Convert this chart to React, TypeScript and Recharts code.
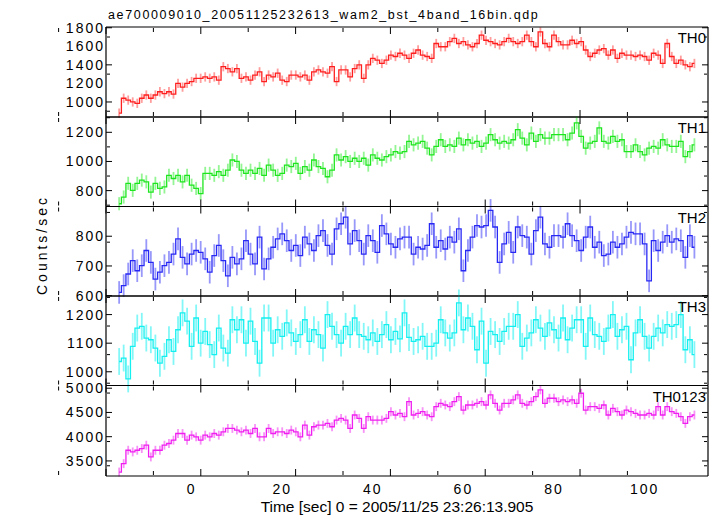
import { ComposedChart, Line, ErrorBar, XAxis, YAxis } from 'recharts'

const W = 717
const H = 516
const PLOT_LEFT = 106
const PLOT_RIGHT = 708
const PANEL_EDGES = [27, 117, 206.5, 296, 385.5, 476]
const Y_AXIS_W = 60
const X_AXIS_H = 30
const FONT = '"Liberation Sans", Arial, Helvetica, sans-serif'

const TITLE = 'ae700009010_20051125232613_wam2_bst_4band_16bin.qdp'
const X_LABEL = 'Time [sec] 0 = 2005/11/25 23:26:13.905'
const Y_LABEL = 'Counts/sec'

const X_DOMAIN = [-18.9, 114]
const X_MAJOR = [0, 20, 40, 60, 80, 100]
const X_MINOR = [-10, 10, 30, 50, 70, 90, 110]

// bin centres, seconds
const TIME = [
  -16, -15, -14, -13, -12, -11, -10, -9, -8, -7, -6, -5, -4, -3, -2, -1,
  0, 1, 2, 3, 4, 5, 6, 7, 8, 9, 10, 11, 12, 13, 14, 15,
  16, 17, 18, 19, 20, 21, 22, 23, 24, 25, 26, 27, 28, 29, 30, 31,
  32, 33, 34, 35, 36, 37, 38, 39, 40, 41, 42, 43, 44, 45, 46, 47,
  48, 49, 50, 51, 52, 53, 54, 55, 56, 57, 58, 59, 60, 61, 62, 63,
  64, 65, 66, 67, 68, 69, 70, 71, 72, 73, 74, 75, 76, 77, 78, 79,
  80, 81, 82, 83, 84, 85, 86, 87, 88, 89, 90, 91, 92, 93, 94, 95,
  96, 97, 98, 99, 100, 101, 102, 103, 104, 105, 106, 107, 108, 109, 110, 111,
]

const TH0 = [
  880, 1040, 1020, 1000, 985, 1040, 1075, 1040, 1075, 1110, 1090, 1110, 1085, 1200, 1160, 1200,
  1220, 1255, 1255, 1270, 1255, 1270, 1235, 1380, 1360, 1325, 1360, 1255, 1270, 1235, 1290, 1325,
  1220, 1290, 1270, 1310, 1235, 1220, 1290, 1290, 1270, 1290, 1235, 1325, 1345, 1325, 1310, 1380,
  1220, 1345, 1345, 1270, 1360, 1400, 1255, 1400, 1470, 1450, 1415, 1450, 1505, 1490, 1525, 1505,
  1470, 1525, 1560, 1505, 1490, 1470, 1630, 1595, 1595, 1650, 1685, 1630, 1650, 1615, 1595, 1630,
  1720, 1665, 1650, 1630, 1615, 1650, 1685, 1650, 1630, 1650, 1720, 1650, 1595, 1755, 1630, 1595,
  1720, 1650, 1615, 1615, 1665, 1630, 1650, 1560, 1490, 1525, 1560, 1575, 1505, 1560, 1470, 1525,
  1505, 1505, 1490, 1505, 1490, 1450, 1525, 1505, 1415, 1630, 1490, 1415, 1450, 1400, 1380, 1415,
]

const TH1 = [
  710, 756, 850, 802, 850, 872, 860, 790, 850, 815, 825, 905, 883, 905, 860, 905,
  837, 815, 780, 918, 918, 905, 930, 905, 940, 1010, 1000, 940, 918, 940, 918, 952,
  905, 975, 940, 905, 918, 975, 965, 987, 918, 965, 940, 1010, 965, 952, 895, 940,
  1045, 1010, 1033, 1000, 1022, 1000, 1022, 975, 1045, 1022, 1010, 1033, 1045, 1068, 1057, 1068,
  1138, 1114, 1126, 1138, 1091, 1045, 1103, 1149, 1103, 1114, 1103, 1160, 1114, 1149, 1126, 1138,
  1103, 1126, 1184, 1149, 1126, 1138, 1126, 1149, 1218, 1160, 1114, 1195, 1138, 1184, 1160, 1160,
  1184, 1184, 1184, 1149, 1195, 1265, 1172, 1091, 1126, 1138, 1230, 1138, 1126, 1172, 1138, 1149,
  1068, 1068, 1114, 1068, 1045, 1091, 1103, 1091, 1149, 1114, 1103, 1103, 1138, 1033, 1068, 1114,
]

const TH2 = [
  611, 634, 673, 718, 684, 701, 752, 712, 656, 679, 701, 712, 740, 791, 729, 707,
  740, 752, 746, 724, 679, 735, 769, 718, 667, 729, 707, 724, 785, 740, 707, 797,
  690, 724, 763, 791, 808, 785, 752, 769, 735, 797, 774, 752, 802, 819, 769, 740,
  825, 842, 864, 774, 819, 785, 740, 802, 785, 746, 836, 808, 774, 763, 791, 797,
  797, 740, 763, 757, 769, 842, 763, 785, 757, 797, 780, 825, 684, 752, 797, 836,
  831, 836, 887, 831, 712, 774, 813, 746, 831, 802, 797, 740, 819, 864, 774, 763,
  802, 802, 797, 842, 802, 785, 752, 797, 831, 763, 780, 735, 740, 780, 763, 774,
  797, 813, 808, 808, 774, 650, 785, 752, 780, 802, 780, 791, 785, 729, 802, 763,
]

const TH3 = [
  1036, 1048, 975, 1089, 1153, 1159, 1118, 1112, 1083, 1030, 1054, 1112, 1071, 1147, 1206, 1177,
  1089, 1188, 1100, 1141, 1095, 1060, 1153, 1083, 1065, 1182, 1147, 1182, 1100, 1177, 1106, 1030,
  1188, 1188, 1100, 1147, 1124, 1171, 1136, 1106, 1130, 1182, 1106, 1147, 1130, 1083, 1200, 1159,
  1130, 1100, 1159, 1130, 1188, 1130, 1124, 1112, 1136, 1106, 1130, 1165, 1112, 1141, 1115, 1206,
  1120, 1106, 1112, 1124, 1089, 1089, 1100, 1182, 1136, 1118, 1136, 1241, 1147, 1188, 1159, 1077,
  1177, 1030, 1141, 1130, 1106, 1141, 1159, 1159, 1200, 1089, 1118, 1136, 1182, 1153, 1124, 1171,
  1147, 1118, 1188, 1112, 1153, 1182, 1182, 1089, 1188, 1130, 1124, 1106, 1153, 1200, 1124, 1147,
  1159, 1042, 1136, 1182, 1124, 1083, 1124, 1153, 1136, 1165, 1159, 1165, 1200, 1077, 1112, 1060,
]

const TH0123 = [
  3271, 3444, 3720, 3686, 3720, 3755, 3824, 3582, 3720, 3720, 3824, 3859, 3928, 4066, 4066, 3928,
  4032, 3997, 3928, 4032, 3997, 4066, 4032, 4101, 4170, 4170, 4136, 4101, 4136, 4066, 4170, 3997,
  3997, 4170, 4066, 4101, 4101, 4066, 4136, 4101, 3997, 4239, 4032, 4205, 4239, 4239, 4274, 4205,
  4343, 4378, 4343, 4170, 4447, 4378, 4170, 4412, 4343, 4343, 4343, 4378, 4516, 4447, 4481, 4412,
  4723, 4447, 4480, 4516, 4447, 4412, 4620, 4689, 4654, 4620, 4723, 4827, 4550, 4654, 4654, 4689,
  4723, 4654, 4862, 4689, 4550, 4689, 4689, 4758, 4862, 4689, 4654, 4723, 4827, 4965, 4689, 4793,
  4793, 4723, 4758, 4723, 4758, 4689, 4896, 4550, 4620, 4620, 4585, 4654, 4447, 4585, 4516, 4447,
  4550, 4516, 4481, 4447, 4447, 4481, 4447, 4620, 4447, 4620, 4516, 4481, 4412, 4274, 4412, 4447,
]

// 1-sigma error per band (counts/sec)
const ERRORS = [50, 45, 38, 47, 92]

const TH0_TICKS = [1000, 1200, 1400, 1600, 1800]
const TH0_MINOR = [900, 1100, 1300, 1500, 1700]
const TH1_TICKS = [800, 1000, 1200]
const TH1_MINOR = [700, 900, 1100, 1300]
const TH2_TICKS = [600, 700, 800]
const TH2_MINOR = [620, 640, 660, 680, 720, 740, 760, 780, 820, 840, 860, 880]
const TH3_TICKS = [1000, 1100, 1200]
const TH3_MINOR = [960, 980, 1020, 1040, 1060, 1080, 1120, 1140, 1160, 1180, 1220, 1240, 1260]
const SUM_TICKS = [3500, 4000, 4500, 5000]
const SUM_MINOR = [3200, 3300, 3400, 3600, 3700, 3800, 3900, 4100, 4200, 4300, 4400, 4600, 4700, 4800, 4900]

const PANELS = [
  { name: 'TH0', values: TH0, err: ERRORS[0], color: '#ff1e1e', bar: 'rgba(255,60,60,0.5)', domain: [838, 1808], ticks: TH0_TICKS, minor: TH0_MINOR },
  { name: 'TH1', values: TH1, err: ERRORS[1], color: '#1ee61e', bar: 'rgba(40,235,40,0.5)', domain: [691, 1305], ticks: TH1_TICKS, minor: TH1_MINOR },
  { name: 'TH2', values: TH2, err: ERRORS[2], color: '#2828f5', bar: 'rgba(50,50,245,0.5)', domain: [599, 900], ticks: TH2_TICKS, minor: TH2_MINOR },
  { name: 'TH3', values: TH3, err: ERRORS[3], color: '#14f0f0', bar: 'rgba(30,240,240,0.55)', domain: [952, 1265], ticks: TH3_TICKS, minor: TH3_MINOR },
  { name: 'TH0123', values: TH0123, err: ERRORS[4], color: '#f01ef0', bar: 'rgba(240,40,240,0.5)', domain: [3189, 5056], ticks: SUM_TICKS, minor: SUM_MINOR },
]

type PanelDef = (typeof PANELS)[number]

// tick={false} also drops the tick marks, so draw an empty label instead
const EmptyTick = () => <g />

// axes that only draw the frame and inward tick marks
const tickOnly = { tick: EmptyTick, allowDataOverflow: true, type: 'number' as const, tickLine: { stroke: '#000' }, mirror: true }

function Panel({ p, index }: { p: PanelDef; index: number }) {
  const top = PANEL_EDGES[index]
  const bottom = PANEL_EDGES[index + 1]
  const last = index === PANELS.length - 1
  const data = TIME.map((t, i) => ({ t, v: p.values[i], e: p.err }))
  const frame = { stroke: '#000', strokeWidth: 1.2 }

  return (
    <div style={{ position: 'absolute', left: 0, top: 0, letterSpacing: '2px' }}>
      <ComposedChart
        width={W}
        height={H}
        data={data}
        margin={{ top, bottom: H - bottom - (last ? X_AXIS_H : 0), left: PLOT_LEFT - Y_AXIS_W, right: W - PLOT_RIGHT }}
      >
        <XAxis xAxisId="main" dataKey="t" type="number" domain={X_DOMAIN} allowDataOverflow ticks={X_MAJOR}
          interval={0} hide={!last} height={X_AXIS_H} tickLine={false} axisLine={false} tickSize={0} tickMargin={8}
          tick={{ fill: '#000', fontSize: 14 }} />
        <XAxis xAxisId="bMaj" {...tickOnly} domain={X_DOMAIN} ticks={X_MAJOR} height={1} tickSize={7} axisLine={frame} />
        <XAxis xAxisId="bMin" {...tickOnly} domain={X_DOMAIN} ticks={X_MINOR} height={1} tickSize={4} axisLine={false} />
        <XAxis xAxisId="tMaj" {...tickOnly} orientation="top" domain={X_DOMAIN} ticks={X_MAJOR} height={1} tickSize={7} axisLine={frame} />
        <XAxis xAxisId="tMin" {...tickOnly} orientation="top" domain={X_DOMAIN} ticks={X_MINOR} height={1} tickSize={4} axisLine={false} />

        <YAxis yAxisId="main" type="number" domain={p.domain} allowDataOverflow ticks={p.ticks} interval={0}
          width={Y_AXIS_W} tickLine={false} axisLine={false} tickSize={0} tickMargin={1}
          tick={{ fill: '#000', fontSize: 14 }} />
        <YAxis yAxisId="lMaj" {...tickOnly} domain={p.domain} ticks={p.ticks} width={1} tickSize={6} axisLine={frame} />
        <YAxis yAxisId="lMin" {...tickOnly} domain={p.domain} ticks={p.minor} width={1} tickSize={3} axisLine={false} />
        <YAxis yAxisId="rMaj" {...tickOnly} orientation="right" domain={p.domain} ticks={p.ticks} width={1} tickSize={6} axisLine={frame} />
        <YAxis yAxisId="rMin" {...tickOnly} orientation="right" domain={p.domain} ticks={p.minor} width={1} tickSize={3} axisLine={false} />

        <Line xAxisId="main" yAxisId="main" dataKey="v" type="step" stroke={p.color} strokeWidth={1.3}
          dot={false} activeDot={false} isAnimationActive={false}>
          <ErrorBar dataKey="e" width={0} stroke={p.bar} strokeWidth={1.8} direction="y" />
        </Line>
      </ComposedChart>
    </div>
  )
}

export default function App() {
  return (
    <div style={{ position: 'absolute', left: 0, top: 0, width: W, height: H, background: '#fff', fontFamily: FONT }}>
      {PANELS.map((p, i) => <Panel key={p.name} p={p} index={i} />)}
      <svg width={W} height={H} style={{ position: 'absolute', left: 0, top: 0, pointerEvents: 'none' }}>
        <text x={108} y={18.5} fontSize={12.5} letterSpacing={1.65} fill="#000">{TITLE}</text>
        {PANELS.map((p, i) => (
          <text key={p.name} x={706} y={PANEL_EDGES[i] + 16} fontSize={15} textAnchor="end" fill="#000">{p.name}</text>
        ))}
        <text x={397} y={512} fontSize={15.5} textAnchor="middle" fill="#000">{X_LABEL}</text>
        <text transform="translate(47,245) rotate(-90)" fontSize={14} letterSpacing={3} textAnchor="middle" fill="#000">{Y_LABEL}</text>
      </svg>
    </div>
  )
}
